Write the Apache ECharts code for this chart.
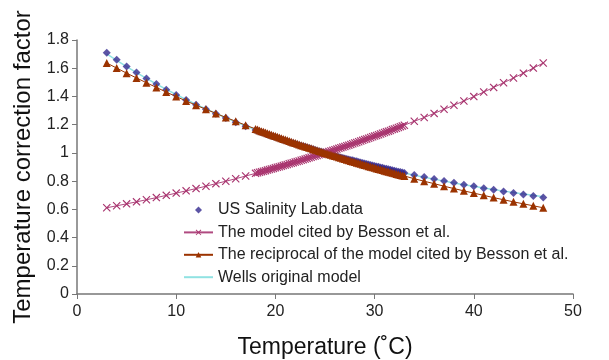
<!DOCTYPE html>
<html>
<head>
<meta charset="utf-8">
<script src="https://cdn.jsdelivr.net/npm/echarts@6/dist/echarts.min.js"></script>
<style>
  html, body { margin: 0; padding: 0; background: #fff; }
  #chart { width: 609px; height: 360px; }
</style>
</head>
<body>
<div id="chart"></div>
<script>
// temperatures (deg C) shared by the lab data and the two Besson curves
var temps = [3,4,5,6,7,8,9,10,11,12,13,14,15,16,17,18,
  18.2,18.4,18.6,18.8,19,19.2,19.4,19.6,19.8,20,20.2,20.4,20.6,20.8,21,21.2,21.4,21.6,21.8,22,
  22.2,22.4,22.6,22.8,23,23.2,23.4,23.6,23.8,24,24.2,24.4,24.6,24.8,25,25.2,25.4,25.6,25.8,26,
  26.2,26.4,26.6,26.8,27,27.2,27.4,27.6,27.8,28,28.2,28.4,28.6,28.8,29,29.2,29.4,29.6,29.8,30,
  30.2,30.4,30.6,30.8,31,31.2,31.4,31.6,31.8,32,32.2,32.4,32.6,32.8,33,
  34,35,36,37,38,39,40,41,42,43,44,45,46,47];

// US Salinity Lab. data
var usslData = [1.709,1.660,1.613,1.569,1.528,1.488,1.448,1.411,1.375,1.341,1.309,1.277,1.247,1.218,1.189,1.163,
  1.157,1.152,1.147,1.142,1.136,1.131,1.127,1.122,1.117,1.112,1.107,1.102,1.097,1.092,1.087,1.082,1.078,1.073,1.068,1.064,
  1.060,1.055,1.051,1.047,1.043,1.038,1.034,1.029,1.025,1.020,1.016,1.012,1.008,1.004,1.000,0.996,0.992,0.988,0.983,0.979,
  0.975,0.971,0.967,0.964,0.960,0.956,0.953,0.950,0.947,0.943,0.940,0.936,0.932,0.929,0.925,0.921,0.918,0.914,0.911,0.907,
  0.904,0.901,0.897,0.894,0.890,0.887,0.884,0.880,0.877,0.873,0.870,0.867,0.864,0.861,0.858,
  0.843,0.829,0.815,0.801,0.788,0.775,0.763,0.750,0.739,0.727,0.716,0.705,0.694,0.683];

// model cited by Besson et al.
var bessonModel = [0.611,0.625,0.639,0.653,0.668,0.683,0.699,0.715,0.731,0.747,0.764,0.782,0.799,0.817,0.836,0.855,
  0.859,0.863,0.867,0.870,0.874,0.878,0.882,0.886,0.890,0.894,0.898,0.902,0.906,0.910,0.914,0.918,0.923,0.927,0.931,0.935,
  0.939,0.943,0.948,0.952,0.956,0.961,0.965,0.969,0.974,0.978,0.982,0.987,0.991,0.996,1.000,1.005,1.009,1.014,1.018,1.023,
  1.027,1.032,1.037,1.041,1.046,1.051,1.055,1.060,1.065,1.070,1.074,1.079,1.084,1.089,1.094,1.099,1.104,1.109,1.114,1.119,
  1.124,1.129,1.134,1.139,1.144,1.149,1.154,1.159,1.165,1.170,1.175,1.180,1.186,1.191,1.196,
  1.224,1.251,1.280,1.309,1.338,1.368,1.399,1.431,1.464,1.497,1.531,1.565,1.601,1.637];

// reciprocal of the Besson model
var bessonRecip = [1.637,1.601,1.565,1.531,1.497,1.464,1.431,1.399,1.368,1.338,1.309,1.280,1.251,1.224,1.196,1.170,
  1.165,1.159,1.154,1.149,1.144,1.139,1.134,1.129,1.124,1.119,1.114,1.109,1.104,1.099,1.094,1.089,1.084,1.079,1.074,1.070,
  1.065,1.060,1.055,1.051,1.046,1.041,1.037,1.032,1.027,1.023,1.018,1.014,1.009,1.005,1.000,0.996,0.991,0.987,0.982,0.978,
  0.974,0.969,0.965,0.961,0.956,0.952,0.948,0.943,0.939,0.935,0.931,0.927,0.923,0.918,0.914,0.910,0.906,0.902,0.898,0.894,
  0.890,0.886,0.882,0.878,0.874,0.870,0.867,0.863,0.859,0.855,0.851,0.847,0.843,0.840,0.836,
  0.817,0.799,0.782,0.764,0.747,0.731,0.715,0.699,0.683,0.668,0.653,0.639,0.625,0.611];

// Wells original model
var wellsTemps = [3,4,5,6,7,8,9,10,11,12,13,14,15,16,17,18,19,20,21,22,23,24,25,
  26,27,28,29,30,31,32,33,34,35,36,37,38,39,40,41,42,43,44,45,46,47];
var wellsModel = [1.702,1.656,1.612,1.569,1.528,1.488,1.450,1.414,1.378,1.344,1.311,1.280,1.249,1.220,1.192,1.164,
  1.138,1.113,1.088,1.065,1.042,1.020,0.999,0.979,0.960,0.941,0.923,0.906,0.889,0.873,0.857,0.842,0.828,0.814,
  0.800,0.787,0.775,0.763,0.751,0.740,0.729,0.719,0.709,0.699,0.690];

function pairs(xs, ys) {
  var out = [];
  for (var i = 0; i < xs.length; i++) out.push([xs[i], ys[i]]);
  return out;
}

var font = 'Liberation Sans, Arial, Helvetica, sans-serif';
var crossPath = 'path://M0,1L1,0L5,4L9,0L10,1L6,5L10,9L9,10L5,6L1,10L0,9L4,5Z';
var diamondPath = 'path://M5,0L10,5L5,10L0,5Z';

var chart = echarts.init(document.getElementById('chart'));
chart.setOption({
  animation: false,
  backgroundColor: '#fff',
  grid: { left: 77, right: 36, top: 40, bottom: 66, outerBoundsMode: 'none' },
  legend: {
    orient: 'vertical',
    left: 178,
    top: 197,
    itemGap: 6.4,
    itemWidth: 29,
    itemHeight: 7,
    symbolKeepAspect: true,
    textStyle: { fontFamily: font, fontSize: 16, lineHeight: 16, color: '#222' },
    data: [
      { name: 'US Salinity Lab.data', icon: diamondPath },
      'The model cited by Besson et al.',
      'The reciprocal of the model cited by Besson et al.',
      { name: 'Wells original model', itemStyle: { opacity: 0 } }
    ]
  },
  xAxis: {
    type: 'value', min: 0, max: 50, interval: 10,
    name: 'Temperature (˚C)', nameLocation: 'middle', nameGap: 42,
    nameTextStyle: { fontFamily: font, fontSize: 23, color: '#111' },
    axisLine: { lineStyle: { color: '#777', width: 1.5 } },
    axisTick: { length: 5, lineStyle: { color: '#777' } },
    axisLabel: { fontFamily: font, fontSize: 16, color: '#222', margin: 10 },
    splitLine: { show: false }
  },
  yAxis: {
    type: 'value', min: 0, max: 1.8, interval: 0.2,
    name: 'Temperature correction factor', nameLocation: 'middle', nameGap: 42,
    nameTextStyle: { fontFamily: font, fontSize: 24, color: '#111' },
    axisLine: { show: true, lineStyle: { color: '#777', width: 1.5 } },
    axisTick: { show: true, length: 5, lineStyle: { color: '#777' } },
    axisLabel: { fontFamily: font, fontSize: 16, color: '#222', margin: 8 },
    splitLine: { show: false }
  },
  series: [
    {
      name: 'US Salinity Lab.data', type: 'scatter', z: 3,
      symbol: 'diamond', symbolSize: 8,
      itemStyle: { color: '#33298f' },
      data: pairs(temps, usslData)
    },
    {
      name: 'The model cited by Besson et al.', type: 'line', z: 4,
      symbol: crossPath, symbolSize: 8, showAllSymbol: true,
      lineStyle: { color: '#b04a80', width: 1 },
      itemStyle: { color: '#a8336e' },
      data: pairs(temps, bessonModel)
    },
    {
      name: 'The reciprocal of the model cited by Besson et al.', type: 'line', z: 5,
      symbol: 'triangle', symbolSize: 8, showAllSymbol: true,
      lineStyle: { color: '#9b3300', width: 1 },
      itemStyle: { color: '#9b3300' },
      data: pairs(temps, bessonRecip)
    },
    {
      name: 'Wells original model', type: 'line', z: 2,
      symbol: 'none',
      lineStyle: { color: '#90e2e2', width: 1.5 },
      itemStyle: { color: '#90e2e2' },
      data: pairs(wellsTemps, wellsModel)
    }
  ]
});
</script>
</body>
</html>
